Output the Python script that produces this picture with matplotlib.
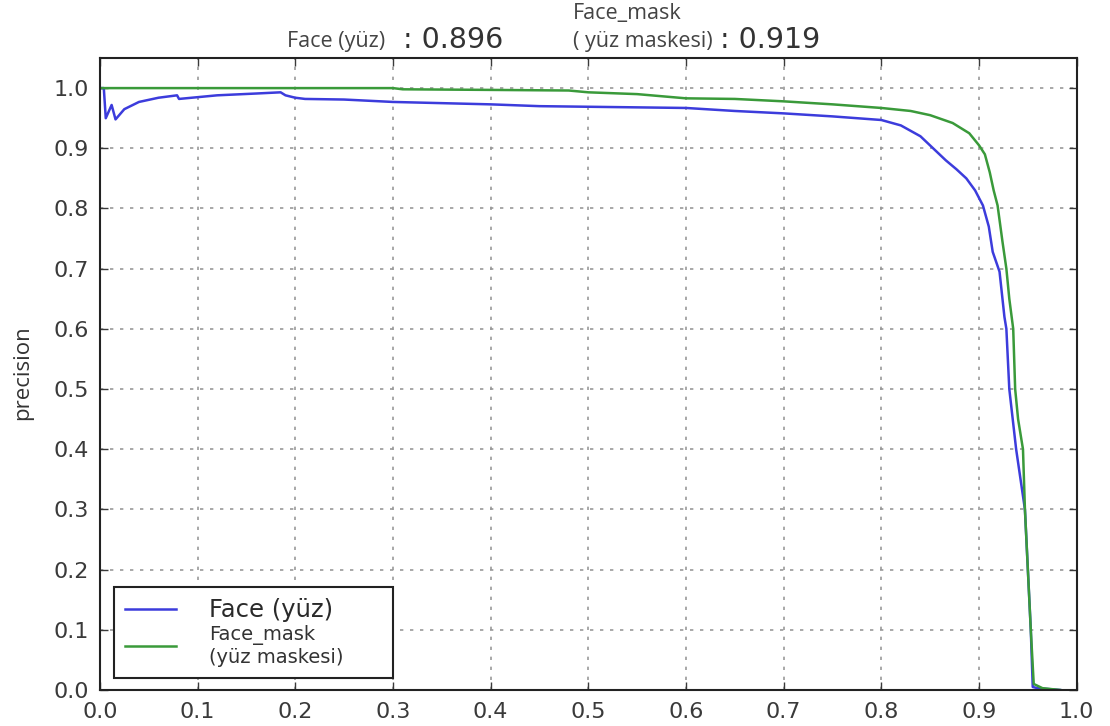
import matplotlib
matplotlib.use("Agg")
import matplotlib.pyplot as plt

# recall / precision
face_recall = [0.0, 0.004, 0.006, 0.012, 0.016, 0.025, 0.04, 0.06, 0.079, 0.081, 0.12, 0.16, 0.185,
               0.19, 0.2, 0.21, 0.25, 0.3, 0.35, 0.4, 0.45, 0.5, 0.55, 0.6, 0.65, 0.7, 0.75, 0.8,
               0.82, 0.84, 0.853, 0.866, 0.877, 0.887, 0.896, 0.904, 0.91, 0.914, 0.921, 0.926,
               0.928, 0.931, 0.938, 0.947, 0.95, 0.953, 0.955, 0.96, 0.983]
face_precision = [1.0, 1.0, 0.95, 0.972, 0.948, 0.965, 0.977, 0.984, 0.988, 0.982, 0.988, 0.991, 0.993,
                  0.988, 0.984, 0.982, 0.981, 0.977, 0.975, 0.973, 0.970, 0.969, 0.968, 0.967, 0.962,
                  0.958, 0.953, 0.947, 0.938, 0.92, 0.90, 0.88, 0.865, 0.85, 0.83, 0.805, 0.77, 0.728,
                  0.695, 0.62, 0.60, 0.50, 0.40, 0.30, 0.20, 0.10, 0.005, 0.003, 0.0]

mask_recall = [0.0, 0.3, 0.31, 0.4, 0.48, 0.5, 0.55, 0.6, 0.65, 0.7, 0.75, 0.8, 0.83, 0.85, 0.873,
               0.89, 0.9, 0.906, 0.911, 0.915, 0.919, 0.924, 0.928, 0.931, 0.935, 0.937, 0.94,
               0.945, 0.947, 0.95, 0.953, 0.956, 0.965, 0.983]
mask_precision = [1.0, 1.0, 0.998, 0.997, 0.996, 0.993, 0.99, 0.983, 0.982, 0.978, 0.973, 0.967,
                  0.962, 0.955, 0.942, 0.925, 0.905, 0.89, 0.86, 0.83, 0.805, 0.745, 0.70, 0.65,
                  0.60, 0.50, 0.45, 0.40, 0.30, 0.20, 0.10, 0.01, 0.003, 0.0]

labels = ["Face (yüz)", "Face_mask\n(yüz maskesi)"]
ap_names = ["Face (yüz)", "( yüz maskesi)"]
ap_values = [0.896, 0.919]
xticks = [0.0, 0.1, 0.2, 0.3, 0.4, 0.5, 0.6, 0.7, 0.8, 0.9, 1.0]
yticks = [0.0, 0.1, 0.2, 0.3, 0.4, 0.5, 0.6, 0.7, 0.8, 0.9, 1.0]

plt.rcParams['font.family'] = ['DejaVu Sans']

fig = plt.figure(figsize=(11.1, 7.26), dpi=100)
ax = fig.add_axes([0.09, 0.0496, 0.880, 0.8705])

ax.plot(face_recall, face_precision, color='#3c3cdc', lw=1.8, label=labels[0])
ax.plot(mask_recall, mask_precision, color='#3a9a3a', lw=1.8, label=labels[1])

ax.set_xlim(0, 1.0)
ax.set_ylim(0, 1.05)
ax.set_xticks(xticks)
ax.set_yticks(yticks)
ax.set_xticklabels(["%.1f" % t for t in xticks])
ax.set_yticklabels(["%.1f" % t for t in yticks])
ax.tick_params(direction='in', top=True, right=True, length=6, width=1,
               labelsize=16, colors='#3a3a3a')
ax.tick_params(axis='y', pad=8)
ax.tick_params(axis='x', pad=9)
ax.grid(True, color='#999999', linestyle=(0, (2, 4)), lw=1.2)
for s in ax.spines.values():
    s.set_linewidth(1.5)
    s.set_color('#222222')

ax.set_ylabel("precision", fontsize=16, color='#333333', family=['Open Sans', 'DejaVu Sans'])
ax.yaxis.set_label_coords(-0.0686, 0.5016)

leg = ax.legend(loc='lower left', bbox_to_anchor=(0.0143, 0.019, 0.286, 0.134), mode='expand',
                borderaxespad=0, fancybox=False, framealpha=1, edgecolor='#222222',
                fontsize=16, handlelength=2.3, handletextpad=1.5, borderpad=0.5,
                labelspacing=0.12)
leg.get_frame().set_linewidth(1.5)
leg.get_texts()[0].set_fontsize(17.5)
leg.get_texts()[1].set_fontsize(14)
leg.get_texts()[0].set_color('#2a2a2a')
leg.get_texts()[1].set_color('#333333')

# title pieces
small = ['Open Sans', 'DejaVu Sans']
fig.text(0.2586, 0.935, ap_names[0], fontsize=15.5, color='#444444', ha='left', va='baseline',
         family=small)
fig.text(0.363, 0.934, ": %.3f" % ap_values[0], fontsize=20.5, color='#333333', ha='left',
         va='baseline')
fig.text(0.516, 0.974, "Face_mask", fontsize=15.5, color='#444444', ha='left', va='baseline',
         family=small)
fig.text(0.516, 0.935, ap_names[1], fontsize=15.5, color='#444444', ha='left', va='baseline',
         family=small)
fig.text(0.6486, 0.934, ": %.3f" % ap_values[1], fontsize=20.5, color='#333333', ha='left',
         va='baseline')

fig.savefig("out.png", dpi=100)
